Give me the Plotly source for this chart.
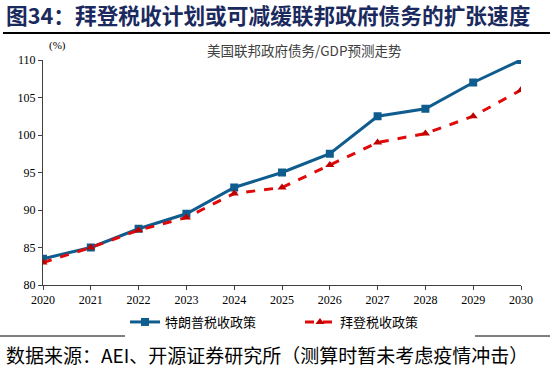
import plotly.graph_objects as go

years = [2020, 2021, 2022, 2023, 2024, 2025, 2026, 2027, 2028, 2029, 2030]
trump = [83.5, 85.0, 87.5, 89.5, 93.0, 95.0, 97.5, 102.5, 103.5, 107.0, 110.0]
biden = [83.0, 85.0, 87.3, 89.0, 92.2, 93.0, 96.0, 99.0, 100.2, 102.5, 106.0]
series_names = ["特朗普税收政策", "拜登税收政策"]

W, H = 550, 370
L, R, T, B = 43, 521, 60, 285

def px(x):
    return (x - L) / (R - L)

def py(y):
    return (B - y) / (B - T)

fig = go.Figure()
fig.add_trace(go.Scatter(
    x=years, y=trump, name=series_names[0], mode="lines+markers",
    line=dict(color="#0F5C8E", width=3),
    marker=dict(symbol="square", size=8, color="#0F5C8E"),
))
fig.add_trace(go.Scatter(
    x=years, y=biden, name=series_names[1], mode="lines+markers",
    line=dict(color="#E00A0A", width=3, dash="dash"),
    marker=dict(symbol="triangle-up", size=8, color="#C00000"),
))

serif = "Liberation Serif, Times New Roman, serif"
fig.update_xaxes(
    range=[2020, 2030], tickvals=years, ticktext=[str(y) for y in years],
    showline=True, linecolor="#404040", linewidth=1, ticks="outside", ticklen=4,
    tickcolor="#404040", showgrid=False, zeroline=False,
    tickfont=dict(family=serif, size=12, color="#000000"),
)
fig.update_yaxes(
    range=[80, 110], tickvals=[80, 85, 90, 95, 100, 105, 110],
    showline=True, linecolor="#404040", linewidth=1, ticks="outside", ticklen=4,
    tickcolor="#404040", showgrid=False, zeroline=False,
    tickfont=dict(family=serif, size=12, color="#000000"),
)

sans = "Noto Sans CJK SC, Noto Sans, sans-serif"
annotations = [
    dict(text="<b>图34：拜登税收计划或可减缓联邦政府债务的扩张速度</b>", x=px(4), y=py(14),
         xanchor="left", yanchor="middle", showarrow=False,
         font=dict(family=sans, size=21.7, color="#1B2A5E")),
    dict(text="美国联邦政府债务/GDP预测走势", x=px(304), y=py(50),
         xanchor="center", yanchor="middle", showarrow=False,
         font=dict(family=sans, size=13.5, color="#404040")),
    dict(text="(%)", x=px(57), y=py(45), xanchor="center", yanchor="middle",
         showarrow=False, font=dict(family=serif, size=11, color="#000000")),
    dict(text="数据来源：AEI、开源证券研究所（测算时暂未考虑疫情冲击）", x=px(4), y=py(354),
         xanchor="left", yanchor="middle", showarrow=False,
         font=dict(family=sans, size=19, color="#000000")),
]
for a in annotations:
    a["xref"] = "paper"
    a["yref"] = "paper"

shapes = [
    dict(type="line", xref="paper", yref="paper", x0=px(3), x1=px(550), y0=py(33), y1=py(33),
         line=dict(color="#000000", width=2)),
    dict(type="line", xref="paper", yref="paper", x0=px(0), x1=px(550), y0=py(336), y1=py(336),
         line=dict(color="#000000", width=1)),
]

fig.update_layout(
    width=W, height=H,
    margin=dict(l=L, r=W - R, t=T, b=H - B, pad=0),
    paper_bgcolor="white", plot_bgcolor="white",
    annotations=annotations, shapes=shapes,
    showlegend=True,
    legend=dict(orientation="h", x=px(125), y=py(322), xanchor="left", yanchor="middle",
                font=dict(family=sans, size=13, color="#000000"),
                itemwidth=30, tracegroupgap=0, entrywidth=130),
)

fig.write_html("out.html", config={"displayModeBar": False},
               post_script="document.body.style.margin='0';")
